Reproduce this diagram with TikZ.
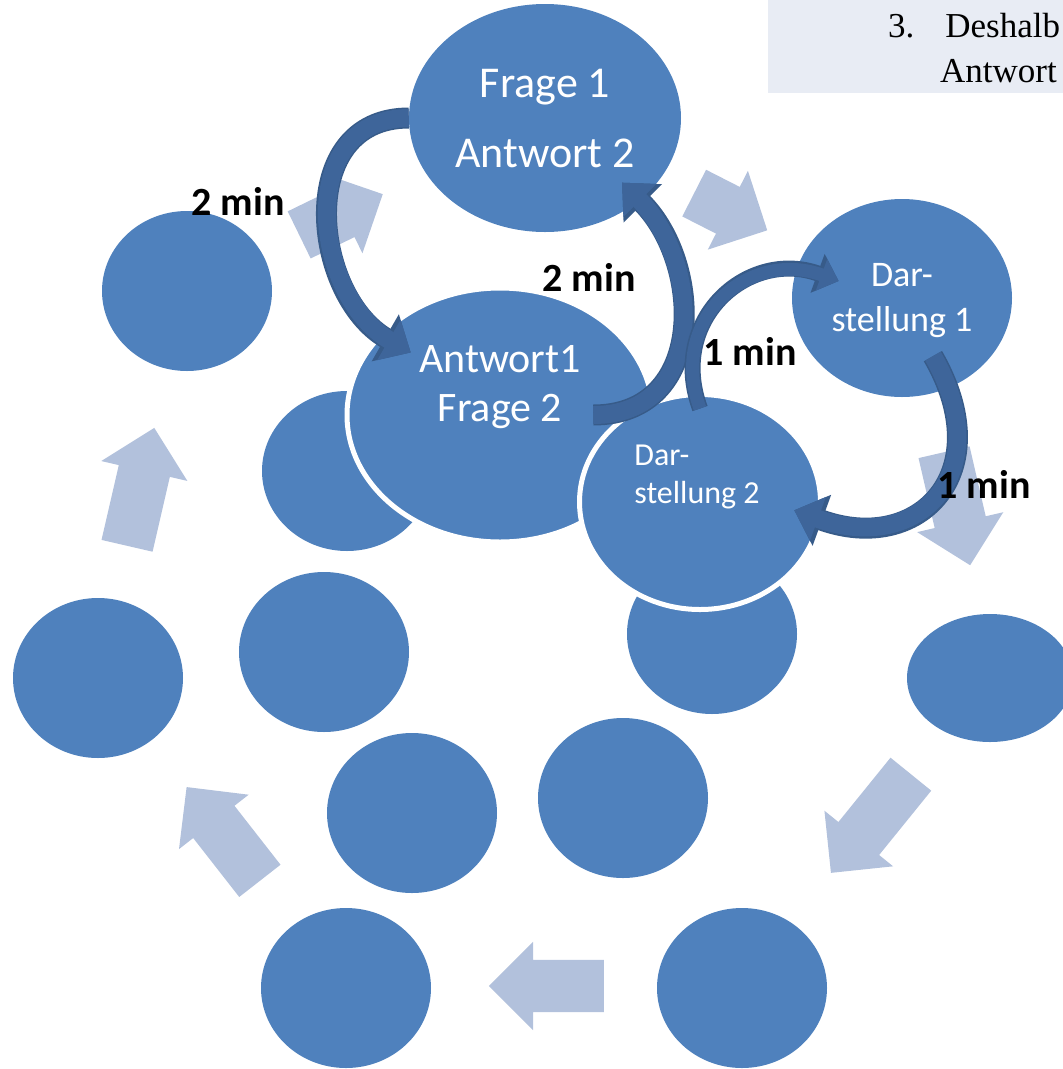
\documentclass[tikz,border=0pt]{standalone}
\usepackage{fontspec}
\setmainfont{Carlito}
\newfontfamily\boxfont{Liberation Serif}
\usetikzlibrary{positioning,calc,arrows.meta,shapes.geometric,shapes.arrows}
\definecolor{discblue}{HTML}{4F81BD}
\definecolor{flowblue}{HTML}{B2C1DC}
\definecolor{curvfill}{HTML}{3E659A}
\definecolor{curvline}{HTML}{375B89}
\definecolor{boxgray}{HTML}{E8ECF4}

\begin{document}
\begin{tikzpicture}[x=1pt, y=-1pt,
  disc/.style={ellipse, fill=discblue, inner sep=0pt,
    minimum width=170pt, minimum height=160pt},
  bigdisc/.style={disc, draw=white, line width=5pt},
  flow/.style={single arrow, fill=flowblue, inner xsep=0pt, inner ysep=26pt, anchor=tail,
    minimum width=88pt, single arrow head extend=18pt},
  curv/.style={draw=curvfill, line width=#1,
    -{Triangle[length=0pt 1.4, width=0pt 2.5]},
    preaction={draw=curvline, line width=#1+3pt,
      -{Triangle[length=0pt 1.4, width=0pt 2.5]}}},
  curv/.default=18pt,
  inside/.style={text=white, align=center, inner sep=0pt},
  lbl/.style={font=\fontsize{40}{48}\selectfont\bfseries, inner sep=0pt}
  ]
  \useasboundingbox (0,0) rectangle (1063,1069);
  \clip (0,0) rectangle (1063,1069);

  % text box in the corner
  \node[fill=boxgray, anchor=north west, minimum width=300pt, minimum height=93pt] (box) at (768,0) {};
  \node[font=\boxfont\fontsize{35}{42}\selectfont, anchor=base west, inner sep=0pt] (b1) at (888,37) {3.\hspace{31pt}Deshalb};
  \node[font=\boxfont\fontsize{35}{42}\selectfont, anchor=base west, inner sep=0pt] (b2) at (940,82) {Antwort};

  % ring of small discs
  \node[disc] (e1) at (187,291) {};
  \node[disc] (e2) at (347,471) {};
  \node[disc] (e3) at (712,634) {};
  \node[disc, minimum width=166pt, minimum height=128pt] (e4) at (990,678) {};
  \node[disc] (e5) at (98,678) {};
  \node[disc] (e6) at (324,652) {};
  \node[disc] (e7) at (412,813) {};
  \node[disc] (e8) at (623,798) {};
  \node[disc] (e9) at (346,988) {};
  \node[disc] (e10) at (742,988) {};

  % the four discs with text
  \node[disc, minimum width=272pt, minimum height=228pt] (q1) at (545,118) {};
  \node[bigdisc, minimum width=306pt, minimum height=254pt] (a1) at (500,415) {};
  \node[disc, minimum width=220pt, minimum height=198pt] (d1) at (902,298) {};
  \node[bigdisc, minimum width=241pt, minimum height=215pt] (d2) at (700,502) {};

  \node[inside, font=\fontsize{44}{70}\selectfont] (q1t) at (q1.center) {Frage 1\\Antwort 2};
  \node[inside, font=\fontsize{42}{49}\selectfont] (a1t) at ([yshift=28pt]a1.center) {Antwort1\\Frage 2};
  \node[inside, font=\fontsize{36}{45}\selectfont] (d1t) at ([yshift=-3pt]d1.center) {Dar-\\stellung 1};
  \node[inside, align=left, font=\fontsize{32}{38}\selectfont] (d2t) at ([xshift=-3pt,yshift=25pt]d2.center) {Dar-\\stellung 2};

  % light arrows round the ring
  \node[flow, minimum height=93pt, rotate=26] (s1) at (299,235) {};
  \node[flow, minimum height=82pt, rotate=-27] (s2) at (694,193) {};
  \node[flow, minimum height=116pt, rotate=-77] (s3) at (944,452) {};
  \node[flow, minimum height=127pt, rotate=231] (s4) at (911,774) {};
  \node[flow, minimum height=115pt, rotate=180] (s5) at (604,986) {};
  \node[flow, minimum height=119pt, rotate=128] (s6) at (260,881) {};
  \node[flow, minimum height=121pt, rotate=77] (s7) at (127,546) {};

  % swaps
  \draw[curv] (q1.west) to[out=180, in=150, looseness=1.25] ($(a1.center)!.75!(a1.145)$);
  \draw[curv] ($(a1.center)!.6!(a1.east)$) to[out=0, in=-45, looseness=1.25] ($(q1.center)!.8!(q1.-40)$);
  \draw[curv=13pt] ($(d2.center)!.85!(d2.north)$) to[out=110, in=160, looseness=1.3] ($(d1.center)!.6!(d1.165)$);
  \draw[curv] ($(d1.center)!.65!(d1.-62)$) to[out=-60, in=-20, looseness=1.65] ($(d2.center)!.77!(d2.-5)$);

  \node[lbl] (m1) at (238,201) {2 min};
  \node[lbl] (m2) at (589,277) {2 min};
  \node[lbl] (m3) at (750,351) {1 min};
  \node[lbl] (m4) at (984,484) {1 min};
\end{tikzpicture}
\end{document}
